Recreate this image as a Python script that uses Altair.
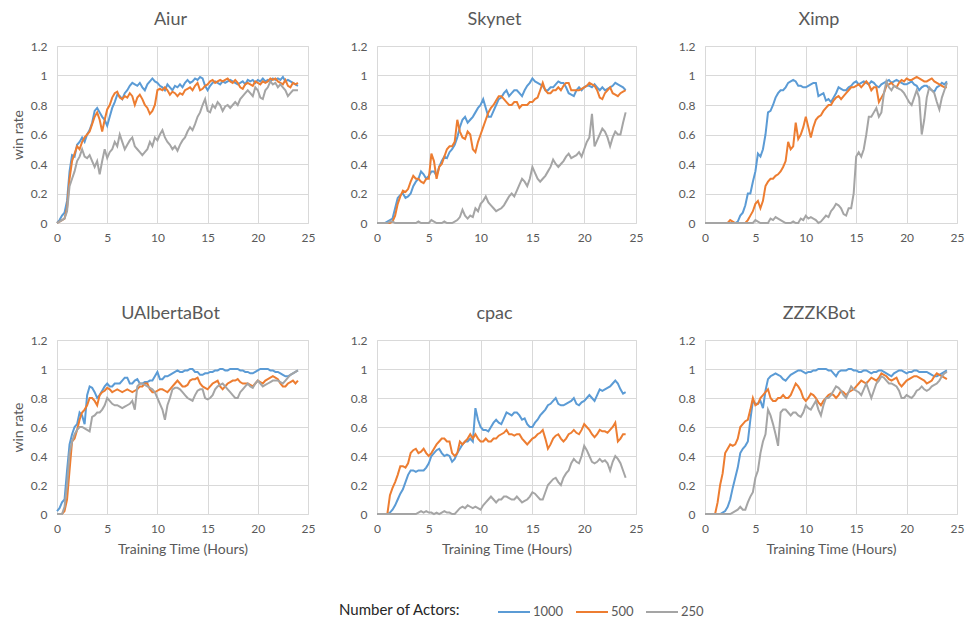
import altair as alt
import pandas as pd

# x grid: every 0.25 hours from 0 to 24
hours = [i * 0.25 for i in range(97)]

bots = ["Aiur", "Skynet", "Ximp", "UAlbertaBot", "cpac", "ZZZKBot"]
actors = ["1000", "500", "250"]
colors = ["#5B9BD5", "#ED7D31", "#A5A5A5"]
x_ticks = [0, 5, 10, 15, 20, 25]
y_ticks = [0, 0.2, 0.4, 0.6, 0.8, 1, 1.2]

aiur_1000 = [0, 0.02, 0.05, 0.07, 0.15,
             0.35, 0.46, 0.45, 0.53, 0.55, 0.58, 0.55, 0.6, 0.63, 0.68, 0.76, 0.78,
             0.75, 0.72, 0.7, 0.66, 0.72, 0.78, 0.82, 0.87, 0.86, 0.84, 0.88, 0.9,
             0.93, 0.95, 0.94, 0.93, 0.95, 0.92, 0.9, 0.94, 0.96, 0.98, 0.96, 0.95,
             0.93, 0.92, 0.9, 0.94, 0.92, 0.9, 0.93, 0.92, 0.94, 0.92, 0.95, 0.97,
             0.95, 0.96, 0.98, 0.97, 0.99, 0.98, 0.93, 0.9, 0.93, 0.95, 0.96, 0.95,
             0.94, 0.96, 0.95, 0.96, 0.97, 0.96, 0.95, 0.94, 0.95, 0.96, 0.94, 0.97,
             0.96, 0.97, 0.95, 0.97, 0.96, 0.98, 0.96, 0.97, 0.96, 0.98, 0.97, 0.98,
             0.97, 0.99, 0.96, 0.97, 0.96, 0.95, 0.94, 0.93]
aiur_500 = [0, 0.01, 0.02, 0.03, 0.1,
            0.3, 0.42, 0.47, 0.52, 0.5, 0.55, 0.58, 0.6, 0.62, 0.67, 0.72, 0.75,
            0.7, 0.62, 0.7, 0.77, 0.8, 0.85, 0.88, 0.89, 0.85, 0.84, 0.86, 0.85,
            0.88, 0.86, 0.8, 0.85, 0.87, 0.84, 0.8, 0.78, 0.74, 0.76, 0.8, 0.9,
            0.91, 0.9, 0.92, 0.9, 0.87, 0.89, 0.88, 0.86, 0.88, 0.87, 0.9, 0.91,
            0.92, 0.9, 0.93, 0.95, 0.9, 0.91, 0.93, 0.94, 0.96, 0.97, 0.95, 0.96,
            0.97, 0.96, 0.97, 0.98, 0.96, 0.95, 0.97, 0.95, 0.92, 0.91, 0.94, 0.95,
            0.94, 0.93, 0.96, 0.95, 0.94, 0.96, 0.95, 0.96, 0.98, 0.97, 0.98, 0.96,
            0.95, 0.94, 0.97, 0.93, 0.92, 0.95, 0.94, 0.95]
aiur_250 = [0, 0.01, 0.02, 0.03, 0.08,
            0.25, 0.3, 0.35, 0.42, 0.45, 0.5, 0.45, 0.44, 0.46, 0.42, 0.38, 0.42,
            0.33, 0.42, 0.5, 0.44, 0.48, 0.5, 0.55, 0.52, 0.6, 0.55, 0.5, 0.53,
            0.56, 0.58, 0.52, 0.5, 0.48, 0.46, 0.48, 0.5, 0.55, 0.52, 0.58, 0.56,
            0.6, 0.63, 0.58, 0.55, 0.53, 0.5, 0.52, 0.49, 0.53, 0.56, 0.58, 0.62,
            0.65, 0.63, 0.67, 0.72, 0.75, 0.8, 0.84, 0.76, 0.75, 0.8, 0.78, 0.82,
            0.8, 0.76, 0.79, 0.8, 0.78, 0.8, 0.82, 0.8, 0.84, 0.86, 0.88, 0.9,
            0.88, 0.86, 0.92, 0.9, 0.85, 0.84, 0.9, 0.92, 0.96, 0.94, 0.95, 0.92,
            0.94, 0.92, 0.9, 0.86, 0.88, 0.9, 0.9, 0.9]

skynet_1000 = [0, 0, 0, 0, 0.01,
               0.02, 0.03, 0.1, 0.17, 0.19, 0.2, 0.17, 0.18, 0.2, 0.25, 0.28, 0.3,
               0.35, 0.33, 0.3, 0.32, 0.35, 0.35, 0.32, 0.38, 0.42, 0.45, 0.44, 0.48,
               0.5, 0.53, 0.58, 0.65, 0.7, 0.72, 0.68, 0.7, 0.72, 0.75, 0.78, 0.8,
               0.84, 0.78, 0.72, 0.72, 0.76, 0.8, 0.84, 0.85, 0.88, 0.9, 0.86, 0.88,
               0.9, 0.9, 0.88, 0.86, 0.9, 0.93, 0.95, 0.98, 0.96, 0.95, 0.94, 0.93,
               0.9, 0.9, 0.92, 0.92, 0.94, 0.96, 0.95, 0.95, 0.92, 0.88, 0.87, 0.86,
               0.9, 0.92, 0.9, 0.92, 0.93, 0.93, 0.92, 0.94, 0.92, 0.9, 0.92, 0.9,
               0.91, 0.92, 0.93, 0.95, 0.94, 0.93, 0.92, 0.9]
skynet_500 = [0, 0, 0, 0, 0,
              0, 0.01, 0.05, 0.13, 0.18, 0.22, 0.21, 0.23, 0.28, 0.32, 0.3, 0.3,
              0.28, 0.27, 0.3, 0.3, 0.47, 0.42, 0.3, 0.38, 0.4, 0.45, 0.5, 0.52,
              0.52, 0.55, 0.7, 0.62, 0.58, 0.57, 0.62, 0.6, 0.5, 0.48, 0.55, 0.6,
              0.65, 0.7, 0.75, 0.78, 0.8, 0.83, 0.86, 0.86, 0.84, 0.82, 0.8, 0.8,
              0.82, 0.82, 0.78, 0.8, 0.8, 0.8, 0.82, 0.82, 0.84, 0.85, 0.9, 0.95,
              0.9, 0.88, 0.88, 0.9, 0.9, 0.92, 0.9, 0.93, 0.95, 0.95, 0.9, 0.9,
              0.9, 0.9, 0.91, 0.92, 0.93, 0.95, 0.94, 0.93, 0.9, 0.85, 0.84, 0.88,
              0.9, 0.92, 0.88, 0.87, 0.86, 0.88, 0.89, 0.9]
skynet_250 = [0, 0, 0, 0, 0,
              0.01, 0.01, 0, 0, 0, 0, 0, 0, 0, 0, 0, 0.01,
              0, 0, 0, 0, 0.02, 0.01, 0, 0, 0, 0.01, 0, 0,
              0, 0.01, 0.02, 0.04, 0.09, 0.05, 0.03, 0.05, 0.04, 0.1, 0.08, 0.13,
              0.15, 0.18, 0.14, 0.12, 0.1, 0.08, 0.09, 0.1, 0.12, 0.15, 0.18, 0.2,
              0.18, 0.22, 0.26, 0.3, 0.28, 0.25, 0.3, 0.38, 0.34, 0.3, 0.28, 0.3,
              0.32, 0.35, 0.38, 0.43, 0.4, 0.38, 0.4, 0.42, 0.45, 0.47, 0.44, 0.45,
              0.46, 0.48, 0.45, 0.5, 0.55, 0.58, 0.74, 0.52, 0.56, 0.6, 0.64, 0.62,
              0.58, 0.52, 0.58, 0.62, 0.6, 0.6, 0.68, 0.75]

ximp_1000 = [0, 0, 0, 0, 0,
             0, 0, 0, 0, 0, 0, 0, 0, 0.01, 0.05, 0.07, 0.12,
             0.2, 0.2, 0.28, 0.35, 0.47, 0.45, 0.5, 0.6, 0.75, 0.76, 0.8, 0.85,
             0.88, 0.9, 0.9, 0.92, 0.95, 0.96, 0.97, 0.96, 0.93, 0.93, 0.92, 0.92,
             0.93, 0.94, 0.95, 0.95, 0.86, 0.87, 0.88, 0.83, 0.84, 0.82, 0.85, 0.88,
             0.92, 0.91, 0.9, 0.9, 0.92, 0.93, 0.95, 0.96, 0.94, 0.95, 0.96, 0.95,
             0.94, 0.96, 0.95, 0.93, 0.92, 0.94, 0.95, 0.96, 0.97, 0.95, 0.96, 0.97,
             0.96, 0.95, 0.94, 0.94, 0.95, 0.96, 0.94, 0.93, 0.9, 0.92, 0.93, 0.93,
             0.91, 0.9, 0.89, 0.92, 0.93, 0.95, 0.94, 0.96]
ximp_500 = [0, 0, 0, 0, 0,
            0, 0, 0, 0, 0, 0.02, 0.01, 0, 0, 0, 0, 0,
            0.02, 0.05, 0.08, 0.13, 0.15, 0.1, 0.15, 0.25, 0.28, 0.3, 0.3, 0.32,
            0.33, 0.35, 0.38, 0.42, 0.55, 0.5, 0.52, 0.68, 0.57, 0.6, 0.65, 0.72,
            0.65, 0.58, 0.65, 0.7, 0.72, 0.73, 0.76, 0.78, 0.8, 0.8, 0.83, 0.85,
            0.86, 0.84, 0.86, 0.88, 0.9, 0.92, 0.92, 0.93, 0.94, 0.92, 0.94, 0.96,
            0.94, 0.9, 0.92, 0.92, 0.82, 0.85, 0.88, 0.93, 0.94, 0.95, 0.93, 0.92,
            0.95, 0.97, 0.96, 0.98, 0.97, 0.97, 0.98, 0.99, 0.98, 0.97, 0.96, 0.96,
            0.97, 0.98, 0.96, 0.95, 0.94, 0.93, 0.92, 0.92]
ximp_250 = [0, 0, 0, 0, 0,
            0, 0, 0, 0, 0, 0, 0, 0, 0, 0, 0, 0,
            0, 0, 0, 0.02, 0.01, 0, 0, 0, 0, 0.03, 0.02, 0.04,
            0.03, 0.02, 0.01, 0, 0, 0, 0.01, 0, 0, 0.03, 0.02, 0.05,
            0.03, 0.04, 0.03, 0.02, 0, 0.01, 0.03, 0.05, 0.04, 0.08, 0.1, 0.13,
            0.12, 0.1, 0.06, 0.05, 0.1, 0.1, 0.2, 0.45, 0.48, 0.45, 0.5, 0.6,
            0.72, 0.72, 0.75, 0.78, 0.72, 0.75, 0.88, 0.96, 0.92, 0.9, 0.93, 0.92,
            0.91, 0.9, 0.88, 0.85, 0.82, 0.8, 0.85, 0.9, 0.85, 0.6, 0.7, 0.85,
            0.92, 0.9, 0.88, 0.82, 0.77, 0.85, 0.9, 0.95]

ualberta_1000 = [0.02, 0.04, 0.08, 0.1, 0.3,
                 0.48, 0.55, 0.6, 0.62, 0.7, 0.68, 0.62, 0.82, 0.88, 0.87, 0.84, 0.8,
                 0.82, 0.85, 0.88, 0.9, 0.88, 0.88, 0.9, 0.9, 0.9, 0.92, 0.94, 0.94,
                 0.9, 0.9, 0.92, 0.93, 0.9, 0.9, 0.91, 0.91, 0.92, 0.92, 0.95, 0.98,
                 0.93, 0.93, 0.95, 0.95, 0.96, 0.97, 0.98, 0.99, 0.98, 0.98, 0.99, 0.99,
                 1.0, 1.0, 0.98, 0.98, 0.96, 0.96, 0.97, 0.97, 0.98, 0.98, 0.99, 0.99,
                 1.0, 1.0, 0.99, 0.99, 1.0, 1.0, 1.0, 1.0, 0.99, 0.99, 0.98, 0.98,
                 0.97, 0.97, 0.98, 0.99, 1.0, 1.0, 1.0, 1.0, 0.99, 0.99, 0.98, 0.98,
                 0.97, 0.96, 0.95, 0.95, 0.96, 0.97, 0.98, 0.99]
ualberta_500 = [0, 0, 0, 0.02, 0.1,
                0.3, 0.5, 0.52, 0.58, 0.65, 0.7, 0.72, 0.75, 0.8, 0.8, 0.78, 0.75,
                0.82, 0.84, 0.85, 0.87, 0.86, 0.84, 0.85, 0.86, 0.85, 0.84, 0.85, 0.86,
                0.85, 0.84, 0.85, 0.86, 0.88, 0.88, 0.9, 0.9, 0.86, 0.84, 0.84, 0.85,
                0.86, 0.86, 0.85, 0.84, 0.86, 0.88, 0.9, 0.92, 0.9, 0.88, 0.88, 0.89,
                0.92, 0.93, 0.93, 0.94, 0.9, 0.88, 0.87, 0.86, 0.88, 0.9, 0.91, 0.92,
                0.88, 0.86, 0.88, 0.9, 0.91, 0.92, 0.92, 0.93, 0.91, 0.9, 0.9, 0.9,
                0.89, 0.88, 0.9, 0.92, 0.91, 0.9, 0.92, 0.93, 0.94, 0.95, 0.94, 0.93,
                0.9, 0.88, 0.88, 0.9, 0.91, 0.92, 0.9, 0.92]
ualberta_250 = [0, 0, 0, 0.05, 0.2,
                0.42, 0.5, 0.55, 0.58, 0.6, 0.6, 0.59, 0.58, 0.57, 0.67, 0.68, 0.7,
                0.7, 0.72, 0.75, 0.8, 0.78, 0.76, 0.75, 0.75, 0.74, 0.73, 0.74, 0.75,
                0.76, 0.78, 0.72, 0.88, 0.9, 0.9, 0.89, 0.88, 0.87, 0.86, 0.84, 0.8,
                0.76, 0.72, 0.65, 0.75, 0.8, 0.86, 0.87, 0.87, 0.86, 0.84, 0.82, 0.8,
                0.79, 0.78, 0.82, 0.85, 0.86, 0.86, 0.8, 0.79, 0.8, 0.82, 0.86, 0.88,
                0.89, 0.9, 0.88, 0.86, 0.84, 0.82, 0.8, 0.8, 0.84, 0.86, 0.88, 0.9,
                0.88, 0.87, 0.9, 0.92, 0.9, 0.88, 0.89, 0.9, 0.91, 0.92, 0.92, 0.92,
                0.91, 0.9, 0.92, 0.94, 0.96, 0.97, 0.98, 0.99]

cpac_1000 = [0, 0, 0, 0, 0,
             0.01, 0.03, 0.06, 0.1, 0.14, 0.17, 0.22, 0.27, 0.3, 0.3, 0.29, 0.3,
             0.3, 0.3, 0.32, 0.35, 0.4, 0.42, 0.44, 0.45, 0.42, 0.4, 0.41, 0.4,
             0.36, 0.38, 0.42, 0.45, 0.48, 0.5, 0.5, 0.52, 0.5, 0.73, 0.65, 0.6,
             0.58, 0.58, 0.57, 0.6, 0.63, 0.65, 0.63, 0.62, 0.66, 0.7, 0.69, 0.68,
             0.7, 0.7, 0.68, 0.65, 0.66, 0.62, 0.6, 0.6, 0.63, 0.65, 0.68, 0.7,
             0.72, 0.75, 0.76, 0.78, 0.8, 0.76, 0.75, 0.75, 0.76, 0.77, 0.78, 0.8,
             0.76, 0.75, 0.77, 0.78, 0.8, 0.82, 0.8, 0.78, 0.82, 0.86, 0.85, 0.86,
             0.87, 0.88, 0.9, 0.92, 0.9, 0.86, 0.83, 0.84]
cpac_500 = [0, 0, 0, 0, 0,
            0.13, 0.18, 0.22, 0.27, 0.33, 0.33, 0.32, 0.35, 0.42, 0.44, 0.45, 0.42,
            0.43, 0.45, 0.42, 0.4, 0.42, 0.45, 0.48, 0.5, 0.52, 0.52, 0.5, 0.5,
            0.42, 0.4, 0.42, 0.5, 0.48, 0.5, 0.52, 0.55, 0.52, 0.55, 0.52, 0.5,
            0.5, 0.52, 0.5, 0.5, 0.52, 0.52, 0.54, 0.55, 0.56, 0.58, 0.55, 0.55,
            0.54, 0.55, 0.55, 0.52, 0.5, 0.48, 0.5, 0.52, 0.53, 0.55, 0.56, 0.58,
            0.52, 0.45, 0.48, 0.52, 0.54, 0.55, 0.52, 0.5, 0.52, 0.55, 0.56, 0.58,
            0.56, 0.55, 0.58, 0.62, 0.6, 0.58, 0.55, 0.53, 0.55, 0.58, 0.57, 0.57,
            0.56, 0.58, 0.6, 0.63, 0.5, 0.52, 0.55, 0.55]
cpac_250 = [0, 0, 0, 0, 0,
            0, 0, 0, 0, 0, 0, 0, 0, 0, 0, 0, 0.01,
            0.02, 0.01, 0.02, 0.01, 0.01, 0, 0.01, 0, 0.01, 0.02, 0.01, 0.01,
            0, 0, 0.02, 0.04, 0.05, 0.04, 0.06, 0.05, 0.04, 0.05, 0.04, 0.03,
            0.06, 0.08, 0.1, 0.12, 0.1, 0.08, 0.1, 0.1, 0.12, 0.12, 0.11, 0.1,
            0.1, 0.12, 0.1, 0.08, 0.09, 0.1, 0.12, 0.15, 0.14, 0.12, 0.1, 0.1,
            0.15, 0.2, 0.22, 0.24, 0.25, 0.22, 0.2, 0.25, 0.28, 0.3, 0.35, 0.38,
            0.36, 0.35, 0.4, 0.47, 0.44, 0.4, 0.36, 0.35, 0.36, 0.38, 0.36, 0.37,
            0.35, 0.3, 0.36, 0.4, 0.38, 0.35, 0.3, 0.25]

zzzk_1000 = [0, 0, 0, 0, 0,
             0, 0, 0.01, 0.02, 0.05, 0.1, 0.18, 0.25, 0.32, 0.42, 0.45, 0.47,
             0.5, 0.65, 0.78, 0.76, 0.76, 0.78, 0.73, 0.85, 0.93, 0.95, 0.96, 0.97,
             0.96, 0.95, 0.93, 0.92, 0.94, 0.96, 0.97, 0.98, 0.99, 0.99, 0.98, 0.97,
             0.98, 0.98, 0.99, 0.99, 1.0, 1.0, 1.0, 1.0, 0.99, 0.99, 0.97, 0.95,
             0.98, 0.99, 0.99, 0.99, 1.0, 1.0, 0.99, 0.99, 0.98, 0.98, 0.99, 0.99,
             0.98, 0.97, 0.98, 0.98, 0.99, 0.99, 0.98, 0.97, 0.96, 0.95, 0.97, 0.98,
             0.99, 0.99, 0.98, 0.97, 0.98, 0.98, 0.99, 0.99, 0.98, 0.98, 0.98, 0.98,
             0.97, 0.96, 0.95, 0.95, 0.96, 0.97, 0.98, 0.99]
zzzk_500 = [0, 0, 0, 0, 0,
            0.08, 0.2, 0.28, 0.42, 0.45, 0.48, 0.47, 0.48, 0.52, 0.6, 0.62, 0.64,
            0.65, 0.72, 0.8, 0.75, 0.76, 0.8, 0.82, 0.84, 0.86, 0.8, 0.78, 0.78,
            0.8, 0.8, 0.82, 0.8, 0.8, 0.82, 0.86, 0.9, 0.88, 0.85, 0.8, 0.78,
            0.8, 0.83, 0.82, 0.8, 0.77, 0.75, 0.78, 0.8, 0.82, 0.83, 0.82, 0.8,
            0.82, 0.85, 0.84, 0.82, 0.84, 0.85, 0.86, 0.88, 0.9, 0.92, 0.91, 0.9,
            0.92, 0.94, 0.93, 0.92, 0.94, 0.97, 0.96, 0.95, 0.93, 0.92, 0.93, 0.94,
            0.9, 0.88, 0.9, 0.92, 0.93, 0.94, 0.95, 0.95, 0.94, 0.93, 0.92, 0.9,
            0.91, 0.92, 0.95, 0.97, 0.96, 0.95, 0.94, 0.93]
zzzk_250 = [0, 0, 0, 0, 0,
            0, 0, 0, 0, 0, 0, 0.01, 0.02, 0.03, 0.05, 0.03, 0.03,
            0.08, 0.12, 0.15, 0.25, 0.3, 0.42, 0.5, 0.55, 0.72, 0.68, 0.62, 0.55,
            0.47, 0.7, 0.72, 0.72, 0.7, 0.68, 0.7, 0.7, 0.68, 0.67, 0.7, 0.75,
            0.73, 0.72, 0.75, 0.78, 0.72, 0.68, 0.75, 0.8, 0.8, 0.82, 0.85, 0.88,
            0.87, 0.85, 0.82, 0.8, 0.84, 0.88, 0.86, 0.85, 0.84, 0.82, 0.86, 0.9,
            0.85, 0.8, 0.85, 0.9, 0.92, 0.95, 0.94, 0.92, 0.9, 0.9, 0.89, 0.88,
            0.85, 0.8, 0.8, 0.82, 0.81, 0.8, 0.82, 0.85, 0.86, 0.88, 0.86, 0.85,
            0.86, 0.88, 0.89, 0.9, 0.92, 0.95, 0.97, 0.98]

series = {
    "Aiur": [aiur_1000, aiur_500, aiur_250],
    "Skynet": [skynet_1000, skynet_500, skynet_250],
    "Ximp": [ximp_1000, ximp_500, ximp_250],
    "UAlbertaBot": [ualberta_1000, ualberta_500, ualberta_250],
    "cpac": [cpac_1000, cpac_500, cpac_250],
    "ZZZKBot": [zzzk_1000, zzzk_500, zzzk_250],
}

rows = []
for bot in bots:
    for a, vals in zip(actors, series[bot]):
        for h, v in zip(hours, vals):
            rows.append({"bot": bot, "hours": h, "actors": a, "win": v})
df = pd.DataFrame(rows)

FONT = "Lato"
GRAY_TXT = "#595959"

color_enc = alt.Color(
    "actors:N",
    scale=alt.Scale(domain=actors, range=colors),
    sort=actors,
    legend=alt.Legend(
        title="Number of Actors:",
        orient="none",
        legendX=282,
        legendY=555,
        direction="horizontal",
        titleOrient="left",
        titleAnchor="middle",
        titleFontSize=15,
        titleColor="#262626",
        titleFontWeight="normal",
        titleFont=FONT,
        titlePadding=42,
        labelFont=FONT,
        labelFontSize=13,
        labelColor=GRAY_TXT,
        symbolType="M-1.6,0H1.6",
        symbolSize=400,
        symbolStrokeWidth=2,
        columnPadding=8,
        labelOffset=8,
    ),
)

col_widths = [251, 259, 252]
row_heights = [177, 174]


def panel(i, bot):
    r, c = divmod(i, 3)
    x_axis = alt.Axis(
        values=x_ticks,
        title="Training Time (Hours)" if r == 1 else None,
        ticks=False, domain=False, labelPadding=9, titlePadding=8,
        labelFlush=False,
        gridColor="#D9D9D9", labelColor=GRAY_TXT, titleColor=GRAY_TXT,
        labelFontSize=12, titleFontSize=14, titleFontWeight="normal",
        labelFont=FONT, titleFont=FONT,
    )
    y_axis = alt.Axis(
        values=y_ticks,
        format="~g",
        title="win rate" if c == 0 else None,
        ticks=False, domain=False, labelPadding=10, titlePadding=5,
        gridColor="#D9D9D9", labelColor=GRAY_TXT, titleColor=GRAY_TXT,
        labelFontSize=12, titleFontSize=14, titleFontWeight="normal",
        labelFont=FONT, titleFont=FONT,
    )
    return (
        alt.Chart(df)
        .transform_filter(alt.datum.bot == bot)
        .mark_line(strokeWidth=2)
        .encode(
            x=alt.X("hours:Q", scale=alt.Scale(domain=[0, 25], nice=False), axis=x_axis),
            y=alt.Y("win:Q", scale=alt.Scale(domain=[0, 1.2], nice=False), axis=y_axis),
            color=color_enc,
        )
        .properties(
            width=col_widths[c],
            height=row_heights[r],
            title=alt.TitleParams(
                text=bot, fontSize=18, font=FONT, color=GRAY_TXT,
                fontWeight="normal", offset=11, dx=-12, anchor="middle",
            ),
        )
    )


charts = [panel(i, b) for i, b in enumerate(bots)]

chart = (
    alt.concat(*charts, columns=3, spacing={"row": 117, "column": 69}, bounds="flush")
    .resolve_scale(color="shared")
    .properties(padding={"left": 2, "top": 2, "right": 0, "bottom": 0})
    .configure_view(stroke=None)
    .configure(background="white")
)

chart.save("out.html", embed_options={"renderer": "svg", "actions": False})
